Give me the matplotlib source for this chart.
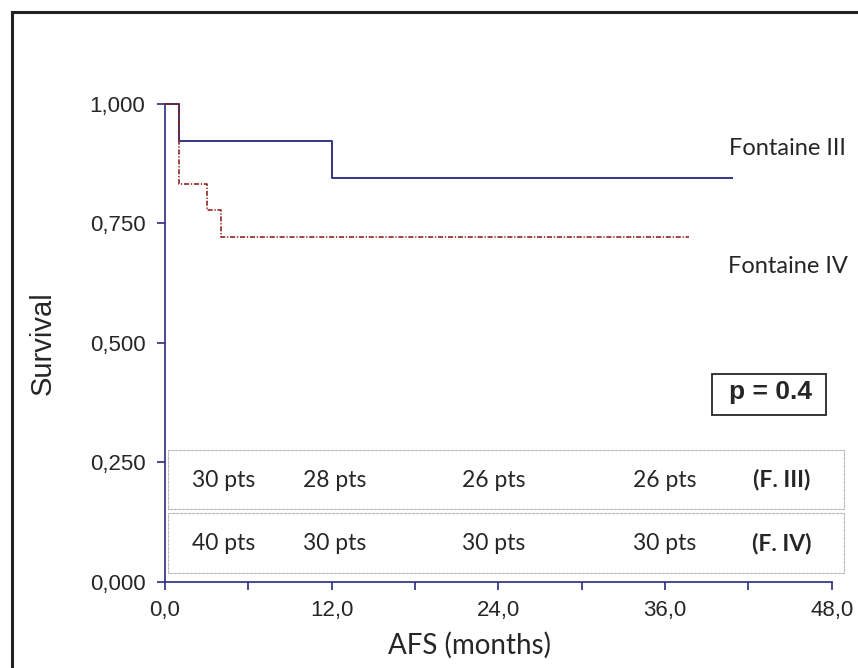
import matplotlib
matplotlib.use("Agg")
import matplotlib.pyplot as plt
from matplotlib.patches import Rectangle
from matplotlib.ticker import FuncFormatter, FixedLocator

# ---- data ----
f3_times = [0.0, 1.0, 12.0, 40.8]
f3_surv = [1.000, 0.923, 0.846, 0.846]
f4_times = [0.0, 1.0, 3.0, 4.0, 37.7]
f4_surv = [1.000, 0.833, 0.778, 0.722, 0.722]
f3_atrisk = [30, 28, 26, 26]
f4_atrisk = [40, 30, 30, 30]
series_names = ["Fontaine III", "Fontaine IV"]
row_labels = ["(F. III)", "(F. IV)"]
p_text = "p = 0.4"
y_ticks = [0.0, 0.25, 0.5, 0.75, 1.0]
x_major = [0, 12, 24, 36, 48]
x_minor = [6, 18, 30, 42]

arial = ["Liberation Sans", "DejaVu Sans"]
calibri = ["Lato", "DejaVu Sans"]
plt.rcParams["font.family"] = arial

W, H = 858, 668
fig = plt.figure(figsize=(W / 100, H / 100), dpi=100)

def fx(px):
    return px / W

def fy(py):
    return 1 - py / H

ax = fig.add_axes([fx(165), fy(581.7), fx(831.7) - fx(165), fy(104) - fy(581.7)])

navy = "#2b2b80"
blue = "#3a3a8c"
red = "#8b1c1c"
txt = "#262626"

ax.step(f3_times, f3_surv, where="post", color=blue, lw=1.45, clip_on=False, zorder=3)
ax.step(f4_times, f4_surv, where="post", color=red, lw=1.15, dashes=(3.2, 1.1, 0.8, 1.1),
        clip_on=False, zorder=4)

ax.set_xlim(0, 48)
ax.set_ylim(0, 1.0)
for s in ["top", "right"]:
    ax.spines[s].set_visible(False)
for s in ["left", "bottom"]:
    ax.spines[s].set_color(navy)
    ax.spines[s].set_linewidth(1.2)

ax.yaxis.set_major_locator(FixedLocator(y_ticks))
ax.yaxis.set_major_formatter(FuncFormatter(lambda v, p: f"{v:.3f}".replace(".", ",")))
ax.xaxis.set_major_locator(FixedLocator(x_major))
ax.xaxis.set_minor_locator(FixedLocator(x_minor))
ax.xaxis.set_major_formatter(FuncFormatter(lambda v, p: f"{v:.1f}".replace(".", ",")))
ax.tick_params(axis="both", which="both", direction="out", length=5.6, width=1.2, color=navy,
               labelsize=16, labelcolor=txt)
ax.tick_params(axis="x", which="both", pad=7.5)
ax.tick_params(axis="y", which="both", pad=8.5)

fig.text(fx(43), fy(343.5), "Survival", rotation=90, ha="center", va="center",
         fontsize=21, family=arial, color=txt)
fig.text(fx(470), fy(654), "AFS (months)", ha="center", va="baseline",
         fontsize=20, family=calibri, color=txt)

fig.text(fx(787.5), fy(155), series_names[0], ha="center", va="baseline",
         fontsize=17, family=calibri, color=txt)
fig.text(fx(787.5), fy(273), series_names[1], ha="center", va="baseline",
         fontsize=17, family=calibri, color=txt)

# p-value box
fig.patches.append(Rectangle((fx(711.7), fy(415)), fx(825.7) - fx(711.7), fy(374) - fy(415),
                             transform=fig.transFigure, fill=False, ec=txt, lw=1.3))
fig.text(fx(770.5), fy(399.3), p_text, ha="center", va="baseline", fontsize=19,
         fontweight="bold", family=arial, color=txt)

# at-risk table boxes
for top, bot in [(450, 509), (513.3, 572.7)]:
    fig.patches.append(Rectangle((fx(168.3), fy(bot)), fx(844) - fx(168.3), fy(top) - fy(bot),
                                 transform=fig.transFigure, fill=False, ec="#8a8a8a",
                                 lw=0.8, ls=(0, (0.6, 0.6))))

col_px = [223.5, 335, 494, 665]
for row_vals, row_lab, ypx in [(f3_atrisk, row_labels[0], 486.7), (f4_atrisk, row_labels[1], 550.5)]:
    for v, cx in zip(row_vals, col_px):
        fig.text(fx(cx), fy(ypx), f"{v} pts", ha="center", va="baseline", fontsize=16.5,
                 family=calibri, color=txt)
    fig.text(fx(782), fy(ypx), row_lab, ha="center", va="baseline", fontsize=16.5,
             fontweight="bold", family=calibri, color=txt)

# outer frame
fig.patches.append(Rectangle((fx(12), fy(H + 10)), fx(W + 10) - fx(12), fy(12) - fy(H + 10),
                             transform=fig.transFigure, fill=False, ec="#222222", lw=2.2,
                             clip_on=False))

fig.savefig("out.png", dpi=100)
